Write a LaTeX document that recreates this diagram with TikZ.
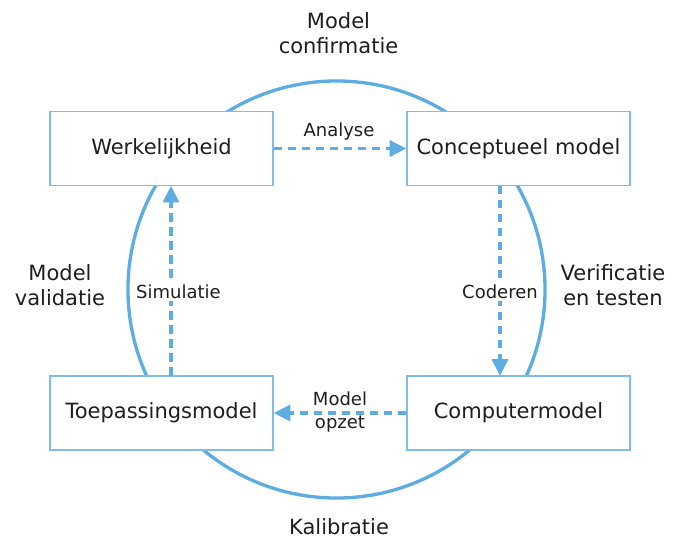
\documentclass[tikz,border=0pt]{standalone}
\usepackage{fontspec}
\setmainfont{DejaVu Sans}
\usetikzlibrary{arrows.meta}
\definecolor{ringblue}{HTML}{5DADE2}
\definecolor{boxblue}{HTML}{7FBCE8}
\definecolor{txt}{HTML}{1E1E1E}
\begin{document}
\begin{tikzpicture}[x=0.75pt,y=-0.75pt,
  box/.style={draw=boxblue,line width=1.3pt,fill=white,minimum width=167pt,minimum height=55.5pt,inner sep=0pt,text=txt,font=\fontsize{15.75}{19.5}\selectfont},
  side/.style={text=txt,align=center,font=\fontsize{15.75}{19.5}\selectfont},
  lab/.style={text=txt,align=center,font=\fontsize{13.5}{18}\selectfont},
  flow/.style={draw=ringblue,line width=2.5pt,dash pattern=on 6.5pt off 4pt,-{Triangle[length=12.5pt,width=12pt]}}]
\useasboundingbox (0,0) rectangle (681,539);
\draw[ringblue,line width=2.5pt] (336.5,289.5) circle[radius=156.4pt];
\node[box] (w) at (161.5,148.5) {Werkelijkheid};
\node[box] (c) at (518.5,148.5) {Conceptueel model};
\node[box] (t) at (161.5,413) {Toepassingsmodel};
\node[box] (m) at (518.5,413) {Computermodel};
\coordinate (ce) at (500,185.8);
\coordinate (me) at (500,375.8);
\coordinate (ts) at (171,375.8);
\coordinate (ws) at (171,185.8);
\draw[flow] (w.east) -- (c.west);
\draw[flow] (ce) -- (me);
\draw[flow] (ts) -- (ws);
\draw[flow] (m.west) -- (t.west -| t.east);
\node[lab] (la) at (339,132) {Analyse};
\node[lab,fill=white,inner sep=1.5pt] (lc) at (500,292) {Coderen};
\node[lab,fill=white,inner sep=1.5pt] (ls) at (178.5,292) {Simulatie};
\node[lab] (lm) at (340,412) {Model\\[-1pt]opzet};
\node[side] (top) at (338.5,33) {Model\\[-0.5pt]confirmatie};
\node[side] (left) at (60,285) {Model\\[-0.5pt]validatie};
\node[side] (right) at (613,285) {Verificatie\\[-0.5pt]en testen};
\node[side] (bot) at (339,527) {Kalibratie};
\end{tikzpicture}
\end{document}
